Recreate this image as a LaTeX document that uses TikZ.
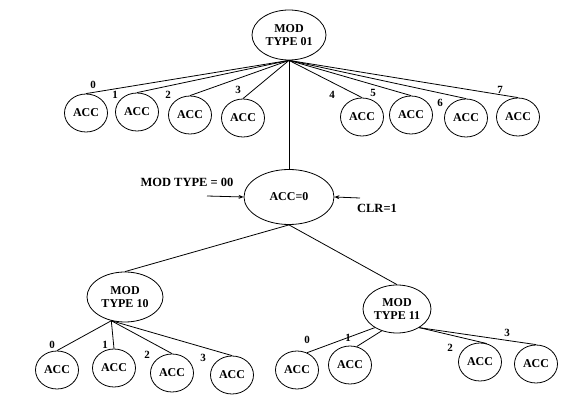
\documentclass[tikz,border=0pt]{standalone}
\usepackage{fontspec}
\setmainfont{Liberation Serif}
\usetikzlibrary{arrows.meta,shapes.geometric}

\begin{document}
\begin{tikzpicture}[
  x=1pt, y=-1pt,
  >={Stealth[length=5pt,width=4pt]},
  line width=0.8pt,
  accnode/.style={draw, ellipse, inner sep=0pt, minimum width=43pt, minimum height=38pt, font=\bfseries\fontsize{12}{13}\selectfont},
  modnode/.style={draw, ellipse, inner sep=0pt, minimum width=74pt, minimum height=50pt, align=center, font=\bfseries\fontsize{12}{13}\selectfont},
  num/.style={inner sep=0pt, font=\bfseries\fontsize{11}{12}\selectfont},
  txt/.style={inner sep=0pt, font=\bfseries\fontsize{12.5}{13}\selectfont},
  wire/.style={draw, line width=0.8pt},
  flow/.style={->, draw, line width=0.8pt}
]
  \useasboundingbox (0,0) rectangle (587,406);

  \node[modnode] (top) at (289,35) {MOD\\TYPE 01};
  \foreach \i/\x/\y in {0/86/113, 1/137/112, 2/190/115, 3/243/118, 4/362/117, 5/411/115, 6/466/118, 7/518/117}
    \node[accnode] (a\i) at (\x,\y) {ACC};
  \foreach \i in {0,...,7}
    \draw[wire] (top.south) -- (a\i.north);
  \foreach \i/\x/\y in {0/93/85, 1/115/95, 2/168/95, 3/238/90, 4/332/95, 5/373/93, 6/440/103, 7/500/90}
    \node[num] (la\i) at (\x,\y) {\i};

  \node[modnode, minimum width=90pt, minimum height=55pt] (acc) at (289,197) {ACC=0};
  \draw[wire] (top.south) -- (acc.north);
  \coordinate (modin) at (207,196);
  \coordinate (clrin) at (360,198);
  \draw[flow] (modin) -- (acc.west);
  \draw[flow] (clrin) -- (acc.east);
  \node[txt] (modlbl) at (187,182) {MOD TYPE = 00};
  \node[txt] (clrlbl) at (377,208) {CLR=1};

  \node[modnode, minimum width=76pt] (m10) at (125,297) {MOD\\TYPE 10};
  \node[modnode, minimum width=68pt, minimum height=48pt] (m11) at (397,309) {MOD\\TYPE 11};
  \draw[wire] (acc.south) -- (m10.north);
  \draw[wire] (acc.south) -- (m11.north);

  \foreach \i/\x/\y in {0/57/370, 1/114/368, 2/172/373, 3/232/375}
    \node[accnode] (b\i) at (\x,\y) {ACC};
  \foreach \i in {0,...,3}
    \draw[wire] (m10.240) -- (b\i.north);
  \foreach \i/\x/\y in {0/52/345, 1/105/345, 2/147/355, 3/203/358}
    \node[num] (lb\i) at (\x,\y) {\i};

  \foreach \i/\x/\y in {0/297/370, 1/350/365, 2/480/362, 3/536/364}
    \node[accnode] (c\i) at (\x,\y) {ACC};
  \draw[wire] (m11.220) -- (c0.60);
  \draw[wire] (m11.235) -- (c1.70);
  \draw[wire] (m11.320) -- (c2.70);
  \draw[wire] (m11.320) -- (c3.north);
  \foreach \i/\x/\y in {0/307/340, 1/348/338, 2/450/348, 3/507/333}
    \node[num] (lc\i) at (\x,\y) {\i};
\end{tikzpicture}
\end{document}
